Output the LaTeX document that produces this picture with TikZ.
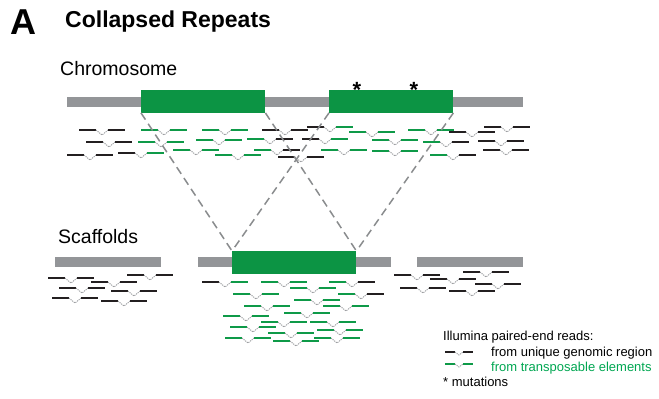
\documentclass[tikz,border=0pt]{standalone}
\usepackage{fontspec}
\setmainfont{Liberation Sans}
\definecolor{tegreen}{HTML}{0C9444}
\definecolor{readgreen}{HTML}{0E9A48}
\definecolor{legendgreen}{HTML}{00A651}
\definecolor{bargray}{HTML}{939598}
\definecolor{readblack}{HTML}{231F20}
\definecolor{dashgray}{HTML}{8A8C8E}
\definecolor{linkgray}{HTML}{9D9FA2}
\tikzset{
  rk/.style={draw=readblack, line width=2pt},
  rg/.style={draw=readgreen, line width=2pt},
  vlink/.style={draw=linkgray, line width=0.9pt, dash pattern=on 1.2pt off 0.9pt},
  bar/.style={fill=bargray, draw=none, inner sep=0pt, anchor=north west, minimum height=10pt},
  tebox/.style={fill=tegreen, draw=none, inner sep=0pt, anchor=north west, minimum width=124pt, minimum height=23pt},
  dashline/.style={draw=dashgray, line width=1.5pt, dash pattern=on 8pt off 5pt},
  label/.style={inner sep=0pt, anchor=base west},
}
\begin{document}
\begin{tikzpicture}[x=1pt, y=-1pt]
\useasboundingbox (0,0) rectangle (659,399);

% headings
\node[label, font=\fontsize{36}{36}\selectfont\bfseries] (panel) at (10,34) {A};
\node[label, font=\fontsize{23}{23}\selectfont\bfseries] (title) at (65,27) {Collapsed Repeats};
\node[label, font=\fontsize{19.5}{19.5}\selectfont] (chrlab) at (60,75) {Chromosome};
\node[label, font=\fontsize{19.5}{19.5}\selectfont] (scflab) at (58,243) {Scaffolds};

% chromosome with two copies of the transposable element
\node[bar, minimum width=456pt] (chr) at (67,97) {};
\node[tebox] (te1) at (141,89.5) {};
\node[tebox] (te2) at (329,89.5) {};
\node[inner sep=0pt, anchor=base, font=\fontsize{22}{22}\selectfont\bfseries] (mut1) at (357,97.5) {*};
\node[inner sep=0pt, anchor=base, font=\fontsize{22}{22}\selectfont\bfseries] (mut2) at (414,97.5) {*};

% scaffolds: the two copies collapse into one
\node[bar, minimum width=106pt] (sc1) at (55,257) {};
\node[bar, minimum width=193pt] (sc2) at (198,257) {};
\node[bar, minimum width=106pt] (sc3) at (417,257) {};
\node[tebox] (te3) at (232,251) {};

% paired-end reads: x/y/left mate/right mate
\foreach \x/\y/\a/\b in {
  79/130/rk/rk, 141/130/rg/rg, 202/130/rg/rg, 262/130/rk/rk, 307/127/rk/rg,
  349/132/rg/rg, 408/130/rg/rg, 449/132/rk/rk, 484/127/rk/rk,
  86/142/rk/rk, 138/142/rg/rg, 196/140/rg/rg, 247/139/rg/rk, 302/139/rk/rg,
  372/140/rg/rg, 423/142/rg/rk, 478/141/rk/rk,
  67/155/rk/rk, 118/153/rk/rg, 173/150/rg/rg, 215/155/rg/rg, 254/150/rg/rk,
  278/157/rk/rk, 321/150/rg/rg, 372/151/rg/rg, 430/155/rg/rk, 483/150/rk/rk,
  48/278/rk/rk, 127/275/rk/rk, 91/282/rk/rk, 59/288/rk/rk, 111/291/rk/rk,
  52/298/rk/rk, 101/301/rk/rk,
  202/282/rk/rg, 261/282/rg/rg, 329/282/rg/rk, 290/288/rg/rg, 233/294/rg/rg,
  338/294/rg/rk, 294/300/rg/rg, 244/306/rg/rg, 323/306/rg/rg, 284/313/rg/rg,
  223/316/rg/rg, 261/322/rg/rg, 310/322/rg/rg, 230/327/rg/rg, 317/330/rg/rg,
  268/333/rg/rg, 225/338/rg/rg, 314/338/rg/rg, 273/341/rg/rg,
  394/275/rk/rk, 463/272/rk/rk, 430/279/rk/rk, 475/284/rk/rk, 400/288/rk/rk,
  449/291/rk/rk}
{
  \draw[\a] (\x,\y) -- ++(17,0);
  \draw[vlink] (\x+17,\y) -- ++(6,5) -- ++(6,-5);
  \draw[\b] (\x+29,\y) -- ++(17,0);
}

% mapping of each element copy onto the collapsed scaffold copy
\draw[dashline] (te1.south west) -- (te3.north west);
\draw[dashline] (te1.south east) -- (te3.north east);
\draw[dashline] (te2.south west) -- (te3.north west);
\draw[dashline] (te2.south east) -- (te3.north east);

% legend
\node[label, font=\fontsize{13}{13}\selectfont] (leghead) at (443,340.5) {Illumina paired-end reads:};
\foreach \y/\s in {352/rk, 364/rg} {
  \draw[\s, line width=1.6pt] (445,\y) -- ++(10,0);
  \draw[vlink] (455,\y) -- ++(4,3) -- ++(4,-3);
  \draw[\s, line width=1.6pt] (463,\y) -- ++(10,0);
}
\node[label, font=\fontsize{13}{13}\selectfont] (legunique) at (491,356) {from unique genomic region};
\node[label, font=\fontsize{13}{13}\selectfont, text=legendgreen] (legte) at (491,371.5) {from transposable elements};
\node[label, font=\fontsize{13}{13}\selectfont] (legmut) at (443,386.5) {* mutations};
\end{tikzpicture}
\end{document}
